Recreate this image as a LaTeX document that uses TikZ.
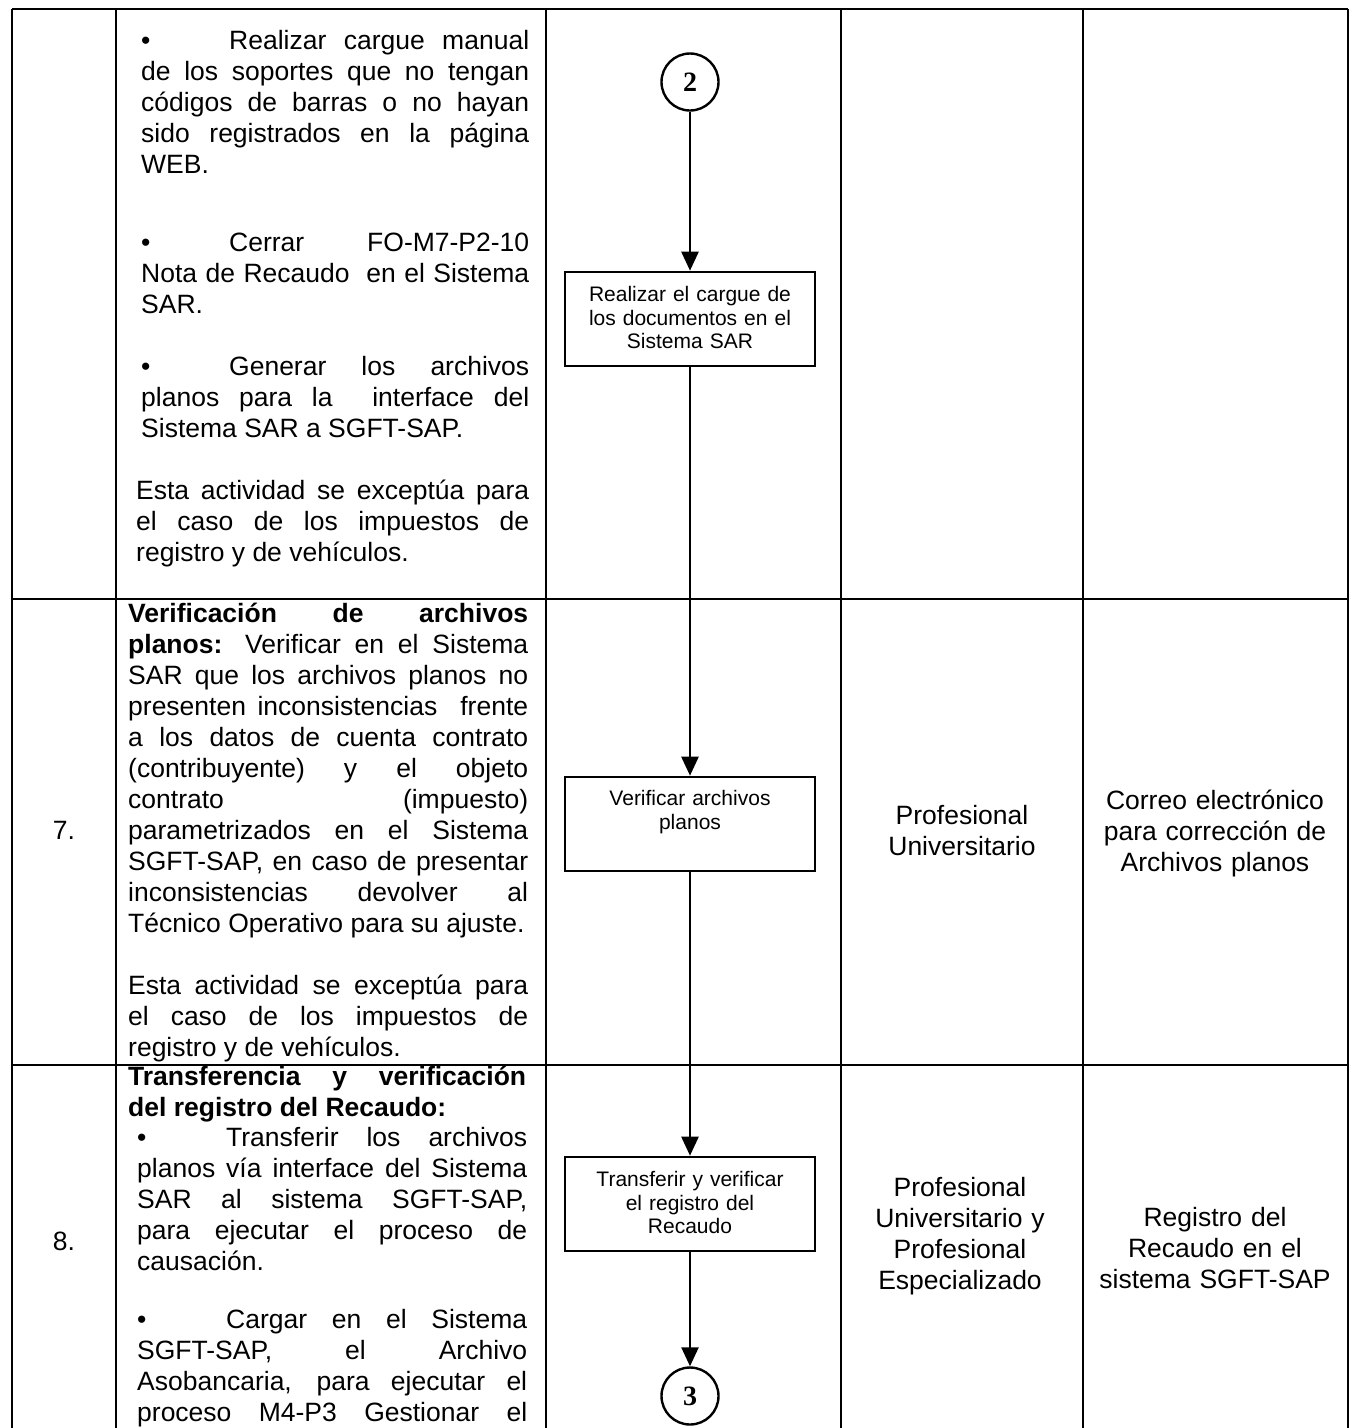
\documentclass[tikz,border=0pt]{standalone}
\usepackage{fontspec}
\setmainfont{Liberation Sans}
\newfontfamily\serifnum{Liberation Serif}
\usetikzlibrary{arrows.meta,calc}
\tolerance=10000
\hbadness=10000
\hyphenpenalty=10000
\exhyphenpenalty=10000
\begin{document}
\begin{tikzpicture}[x=1pt,y=-1pt,
  grid/.style={line width=2.6pt},
  flow/.style={line width=2.4pt,-{Triangle[length=19pt,width=17pt]}},
  procbox/.style={draw,line width=2.6pt,minimum width=250pt,minimum height=94pt,inner sep=0pt},
  conn/.style={draw,circle,line width=2.4pt,minimum size=57pt,inner sep=0pt,font=\serifnum\bfseries\fontsize{28}{28}\selectfont},
  boxtext/.style={anchor=base,align=center,text width=240pt,inner sep=0pt,font=\fontsize{21}{23.5}\selectfont},
  body/.style={anchor=base west,align=justify,inner sep=0pt,font=\fontsize{26.5}{31}\selectfont},
  role/.style={anchor=base,align=center,text width=240pt,inner sep=0pt,font=\fontsize{26.5}{31}\selectfont},
  num/.style={anchor=base,inner sep=0pt,font=\fontsize{26.5}{31}\selectfont},
]
\useasboundingbox (0,0) rectangle (1353,1428);
\fill[white] (0,0) rectangle (1353,1428);

% table grid
\draw[grid] (12,9) -- (1348,9);
\draw[grid] (12,599) -- (1348,599);
\draw[grid] (12,1065) -- (1348,1065);
\foreach \cx in {12,116,546,841,1083,1348} {\draw[grid] (\cx,9) -- (\cx,1432);}

% row 6 (continued)
\node[body,text width=388pt] (p6a) at (141,49) {\makebox[88pt][l]{•}Realizar cargue manual\linebreak de los soportes que no tengan\linebreak códigos de barras o no hayan\linebreak sido registrados en la página\linebreak WEB.};
\node[body,text width=388pt] (p6b) at (141,251) {\makebox[88pt][l]{•}Cerrar FO-M7-P2-10\linebreak Nota de Recaudo\ \ en el Sistema\linebreak SAR.};
\node[body,text width=388pt] (p6c) at (141,375) {\makebox[88pt][l]{•}Generar los archivos\linebreak planos para la\ \ interface del\linebreak Sistema SAR a SGFT-SAP.};
\node[body,text width=393pt] (p6d) at (136,499) {Esta actividad se exceptúa para\linebreak el caso de los impuestos de\linebreak registro y de vehículos.};

% row 7
\node[num] (n7) at (64,839) {7.};
\node[body,text width=400pt] (p7a) at (128,622) {\textbf{Verificación de archivos}\linebreak \textbf{planos:} Verificar en el Sistema\linebreak SAR que los archivos planos no\linebreak presenten inconsistencias\ \ frente\linebreak a los datos de cuenta contrato\linebreak (contribuyente) y el objeto\linebreak contrato (impuesto)\linebreak parametrizados en el Sistema\linebreak SGFT-SAP, en caso de presentar\linebreak inconsistencias devolver al\linebreak Técnico Operativo para su ajuste.};
\node[body,text width=400pt] (p7b) at (128,994) {Esta actividad se exceptúa para\linebreak el caso de los impuestos de\linebreak registro y de vehículos.};
\node[role] (r7) at (962,824) {Profesional\\Universitario};
\node[role] (o7) at (1215,809) {Correo electrónico\\para corrección de\\Archivos planos};

% row 8
\node[num] (n8) at (64,1250) {8.};
\node[body,text width=398pt] (p8a) at (128,1085) {\textbf{Transferencia y verificación}\linebreak \textbf{del registro del Recaudo:}};
\node[body,text width=390pt] (p8b) at (137,1146) {\makebox[89pt][l]{•}Transferir los archivos\linebreak planos vía interface del Sistema\linebreak SAR al sistema SGFT-SAP,\linebreak para ejecutar el proceso de\linebreak causación.};
\node[body,text width=390pt] (p8c) at (137,1328) {\makebox[89pt][l]{•}Cargar en el Sistema\linebreak SGFT-SAP, el Archivo\linebreak Asobancaria, para ejecutar el\linebreak proceso M4-P3 Gestionar el\linebreak};
\node[role] (r8) at (960,1196) {Profesional\\Universitario y\\Profesional\\Especializado};
\node[role] (o8) at (1215,1226) {Registro del\\Recaudo en el\\sistema SGFT-SAP};

% flow
\node[conn] (c2) at (690,82) {2};
\node[procbox] (b1) at (690,319) {};
\node[boxtext] (t1) at ($(b1.north)+(0,31)$) {Realizar el cargue de\\los documentos en el\\Sistema SAR};
\node[procbox] (b2) at (690,824) {};
\node[boxtext] (t2) at ($(b2.north)+(0,30)$) {Verificar archivos\\planos};
\node[procbox] (b3) at (690,1204) {};
\node[boxtext] (t3) at ($(b3.north)+(0,31)$) {Transferir y verificar\\el registro del\\Recaudo};
\node[conn] (c3) at (690,1396) {3};

\draw[flow] (c2) -- (b1);
\draw[flow] (b1) -- (b2);
\draw[flow] (b2) -- (b3);
\draw[flow] (b3) -- (c3);
\end{tikzpicture}
\end{document}
